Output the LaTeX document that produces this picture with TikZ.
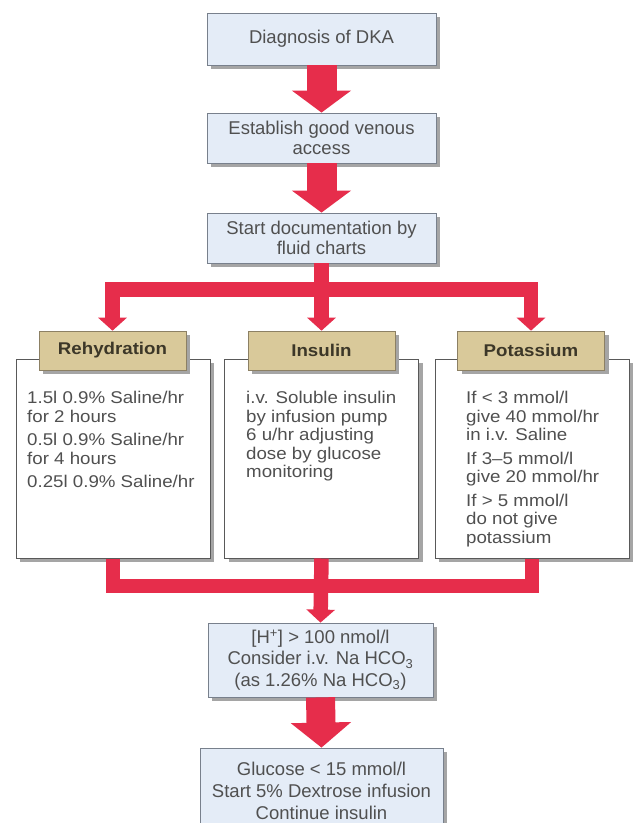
\documentclass[tikz,border=0pt]{standalone}
\usepackage{fontspec}
\setmainfont{Liberation Sans}
\newfontfamily\widefont{Liberation Sans}[FakeStretch=1.1]
\usetikzlibrary{arrows.meta,shadows}
\definecolor{redc}{RGB}{230,45,75}
\definecolor{boxc}{RGB}{228,236,247}
\definecolor{bordc}{RGB}{120,128,140}
\definecolor{shadc}{RGB}{165,165,165}
\definecolor{tanc}{RGB}{217,201,154}
\definecolor{tanbord}{RGB}{140,128,100}
\definecolor{txtc}{RGB}{80,80,80}
\definecolor{htxt}{RGB}{60,55,40}
\tikzset{
  shad/.style={drop shadow={shadow xshift=4pt,shadow yshift=-4pt,fill=shadc,opacity=1}},
  mbox/.style={shad,draw=bordc,fill=boxc,line width=0.8pt,minimum width=229pt,minimum height=51pt,
    inner sep=0pt,align=center,text=txtc,font=\fontsize{18.5}{20.5}\selectfont},
  wbox/.style={shad,draw=black!65,fill=white,line width=1pt,minimum width=194pt,minimum height=199pt,inner sep=0pt},
  hbox/.style={shad,draw=tanbord,fill=tanc,line width=0.6pt,minimum width=147pt,minimum height=39pt,
    inner sep=0pt,text=htxt,font=\widefont\fontsize{17}{19}\selectfont\bfseries},
  ltext/.style={anchor=north west,inner sep=0pt,align=left,text=txtc,font=\widefont\fontsize{17}{18.5}\selectfont},
  bigarrow/.style={draw=redc,line width=30pt,-{Triangle[width=58pt,length=22pt]}},
  lastarrow/.style={draw=redc,line width=29pt,-{Triangle[width=59pt,length=25pt]}},
  thinarrow/.style={draw=redc,line width=14.5pt,line join=miter,-{Triangle[width=28pt,length=13pt]}},
  redbar/.style={draw=redc,line width=14.5pt,line join=miter},
}
\begin{document}
\begin{tikzpicture}[x=1pt,y=-1pt]
\useasboundingbox[fill=white] (0,0) rectangle (634,823);
% top boxes
\node[mbox,minimum height=52pt] (b1) at (321.5,39) {Diagnosis of DKA};
\node[mbox,minimum height=50pt] (b2) at (321.5,138) {Establish good venous\\access};
\node[mbox,minimum height=50pt] (b3) at (321.5,238) {Start documentation by\\fluid charts};
% white boxes
\node[wbox] (w1) at (113,458.5) {};
\node[wbox] (w2) at (321.5,458.5) {};
\node[wbox] (w3) at (532,458.5) {};
% headers
\node[hbox] (h1) at (112.5,350.5) {Rehydration};
\node[hbox] (h2) at (321.5,350.5) {Insulin};
\node[hbox] (h3) at (531,350.5) {Potassium};
% list texts
\node[ltext] (t1) at (27,391) {1.5l 0.9\% Saline/hr\\for 2 hours\\[5pt]0.5l 0.9\% Saline/hr\\for 4 hours\\[5pt]0.25l 0.9\% Saline/hr};
\node[ltext] (t2) at (246,391) {i.v. Soluble insulin\\by infusion pump\\6 u/hr adjusting\\dose by glucose\\monitoring};
\node[ltext] (t3) at (466,391) {If < 3 mmol/l\\give 40 mmol/hr\\in i.v. Saline\\[5pt]If 3\textendash 5 mmol/l\\give 20 mmol/hr\\[5pt]If > 5 mmol/l\\do not give\\potassium};
% lower boxes
\node[mbox,minimum width=225pt,minimum height=74pt,font=\fontsize{18.5}{21.5}\selectfont] (b4) at (320.5,660)
  {[H\textsuperscript{+}] > 100 nmol/l\\Consider i.v. Na HCO\textsubscript{3}\\(as 1.26\% Na HCO\textsubscript{3})};
\node[mbox,minimum width=243pt,minimum height=86pt,font=\fontsize{18.5}{22}\selectfont] (b5) at (321.5,791)
  {Glucose < 15 mmol/l\\Start 5\% Dextrose infusion\\Continue insulin};
% connectors
\coordinate (jt) at (321.5,289.5);
\coordinate (jb) at (321.5,586);
\draw[bigarrow] (b1.south) -- (b2.north);
\draw[bigarrow] (b2.south) -- (b3.north);
\draw[thinarrow] (jt) -| (h1.north);
\draw[thinarrow] (jt) -| (h3.north);
\draw[thinarrow] (b3.south) -- (h2.north);
\draw[redbar] (w1.south) |- (jb) -| (w3.south);
\draw[thinarrow] (w2.south) -- (b4.north);
\draw[lastarrow] (b4.south) -- (b5.north);
\end{tikzpicture}
\end{document}
